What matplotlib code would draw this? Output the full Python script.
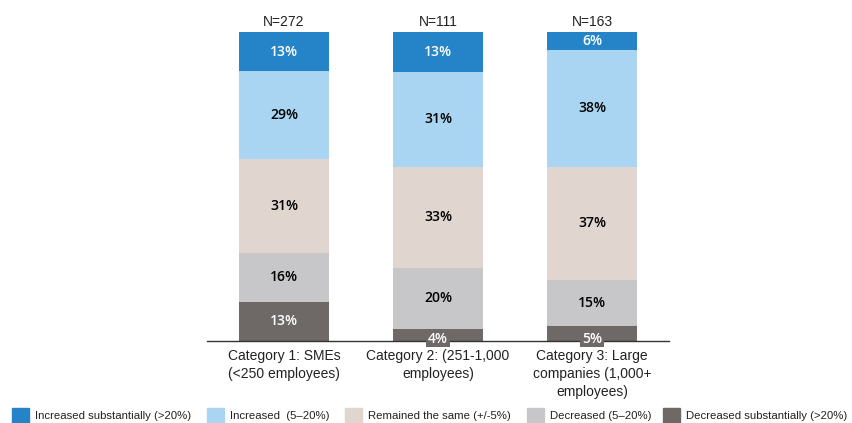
import matplotlib
matplotlib.use("Agg")
import matplotlib.pyplot as plt
import numpy as np

categories = ["Category 1: SMEs\n(<250 employees)",
              "Category 2: (251-1,000\nemployees)",
              "Category 3: Large\ncompanies (1,000+\nemployees)"]
n_labels = ["N=272", "N=111", "N=163"]
series_names = ["Increased substantially (>20%)", "Increased  (5\u201320%)",
                "Remained the same (+/-5%)", "Decreased (5\u201320%)",
                "Decreased substantially (>20%)"]
inc_sub = [13, 13, 6]
inc = [29, 31, 38]
same = [31, 33, 37]
dec = [16, 20, 15]
dec_sub = [13, 4, 5]

colors = ["#2584C8", "#A9D5F2", "#E0D6CF", "#C7C7C9", "#6E6866"]
text_colors = ["white", "black", "black", "black", "white"]

fig = plt.figure(figsize=(8.52, 4.23), dpi=100)
ax = fig.add_axes([207/852, 82/423, 462/852, 309/423])

data = np.array([dec_sub, dec, same, inc, inc_sub], dtype=float)  # bottom to top
cols = colors[::-1]
tcols = text_colors[::-1]
totals = data.sum(axis=0)
frac = data / totals * 100
x = np.arange(len(categories))
bottom = np.zeros(len(categories))
for i in range(data.shape[0]):
    ax.bar(x, frac[i], 0.59, bottom=bottom, color=cols[i], edgecolor="none")
    for j in range(len(x)):
        v = data[i, j]
        yc = bottom[j] + frac[i, j] / 2
        kw = {}
        if frac[i, j] < 5:
            yc = bottom[j] + 0.8
            kw = dict(bbox=dict(boxstyle="square,pad=0.12", fc=cols[i], ec="none"))
        ax.text(x[j], yc, f"{int(v)}%", ha="center", va="center",
                color=tcols[i], fontsize=10, family="Open Sans", weight=600,
                clip_on=False, **kw)
    bottom += frac[i]

for j in range(len(x)):
    ax.text(x[j], 101, n_labels[j], ha="center", va="bottom", fontsize=10,
            family="Liberation Sans", color="#222222")

ax.set_xlim(-0.5, 2.5)
ax.set_ylim(0, 100)
for s in ["top", "right", "left"]:
    ax.spines[s].set_visible(False)
ax.spines["bottom"].set_color("#333333")
ax.spines["bottom"].set_linewidth(1.0)
ax.set_yticks([])
ax.set_xticks(x)
ax.set_xticklabels(categories, fontsize=10, family="Liberation Sans", color="#222222",
                   linespacing=1.35)
ax.tick_params(axis="x", length=0, pad=6)

# legend laid out like the reference
sq_x = [12, 207, 345, 527, 663]
for c, name, px in zip(colors, series_names, sq_x):
    fig.patches.append(plt.Rectangle((px/852, 0), 17/852, 15/423, color=c,
                                     transform=fig.transFigure, figure=fig))
    fig.text((px + 23)/852, 7.5/423, name, ha="left", va="center",
             family="Liberation Sans", fontsize=8.2, color="#222222")

fig.savefig("out.png", dpi=100)
